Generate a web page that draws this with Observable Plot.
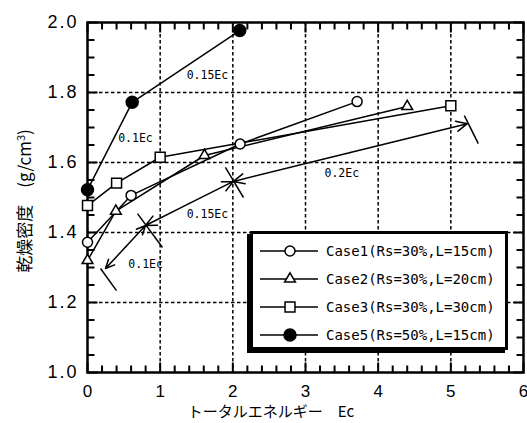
<!DOCTYPE html>
<html><head><meta charset="utf-8">
<script src="https://cdn.jsdelivr.net/npm/d3@7"></script>
<script src="https://cdn.jsdelivr.net/npm/@observablehq/plot@0.6"></script>
<style>
body{margin:0;background:#fff;}
#chart{width:527px;height:423px;}
g[aria-label="y-axis tick label"] text {letter-spacing:2px;}
</style></head><body><div id="chart"></div>
<script>
// ---- data ----
const case1X = [0, 0.60, 2.10, 3.71];
const case1Y = [1.372, 1.506, 1.653, 1.774];
const case2X = [0, 0.39, 1.61, 4.40];
const case2Y = [1.320, 1.461, 1.620, 1.760];
const case3X = [0, 0.40, 1.00, 5.00];
const case3Y = [1.477, 1.541, 1.615, 1.762];
const case5X = [0, 0.615, 2.095];
const case5Y = [1.522, 1.772, 1.977];
const seriesNames = ["Case1(Rs=30%,L=15cm)", "Case2(Rs=30%,L=20cm)", "Case3(Rs=30%,L=30cm)", "Case5(Rs=50%,L=15cm)"];

// bidirectional arrow segments (0.1Ec, 0.15Ec, 0.2Ec)
const segX = [0.248, 0.798, 2.008, 5.227];
const segY = [1.297, 1.420, 1.546, 1.711];
// end marks on the arrow segments
const markX1 = [0.179, 0.688, 1.898, 5.186];
const markY1 = [1.297, 1.454, 1.586, 1.734];
const markX2 = [0.399, 1.032, 2.146, 5.378];
const markY2 = [1.234, 1.357, 1.500, 1.654];

// annotation labels
const noteText = ["0.15Ec", "0.1Ec", "0.15Ec", "0.1Ec", "0.2Ec"];
const noteX = [1.65, 0.66, 1.65, 0.80, 3.50];
const noteY = [1.849, 1.669, 1.451, 1.309, 1.569];

const xTicks = [0, 1, 2, 3, 4, 5, 6];
const yTicks = [1.0, 1.2, 1.4, 1.6, 1.8, 2.0];
const xGrid = [1, 2, 3, 4, 5];
const yGrid = [1.2, 1.4, 1.6, 1.8];
const xMinor = d3.range(0, 31).map(i => i * 0.2);
const yMinor = d3.range(0, 21).map(i => 1 + i * 0.05);

// ---- build tables ----
const symbolNames = ["circle", "triangle", "square", "circle"];
const symbolRadii = [5, 4, 5.6, 6];
const symbolFills = ["#fff", "#fff", "#fff", "#000"];
const seriesXs = [case1X, case2X, case3X, case5X];
const seriesYs = [case1Y, case2Y, case3Y, case5Y];
const pointRows = [];
seriesXs.forEach((arr, s) => arr.forEach((x, i) => pointRows.push({series: s, x, y: seriesYs[s][i]})));
const arrowSegs = d3.range(3).map(i => ({x0: segX[i], y0: segY[i], x1: segX[i + 1], y1: segY[i + 1]}));
const endMarks = markX1.map((x, i) => ({x1: x, y1: markY1[i], x2: markX2[i], y2: markY2[i]}));
const noteRows = noteText.map((t, i) => ({t, x: noteX[i], y: noteY[i]}));

// frame tick marks as short links (lengths converted from pixels: 436px wide = 6 units, 350px tall = 1 unit)
const ux = 6 / 436, uy = 1 / 350;
const frameTicks = [];
xMinor.forEach((v, i) => {
  const len = (i % 5 === 0 ? 10 : 7) * uy;
  frameTicks.push({x1: v, y1: 1, x2: v, y2: 1 + len});
  frameTicks.push({x1: v, y1: 2, x2: v, y2: 2 - len});
});
yMinor.forEach((v, i) => {
  const len = (i % 4 === 0 ? 10 : 7) * ux;
  frameTicks.push({x1: 0, y1: v, x2: len, y2: v});
  frameTicks.push({x1: 6, y1: v, x2: 6 - len, y2: v});
});

const dash = {stroke: "#000", strokeWidth: 1.5, strokeDasharray: "3.5,2.5"};

const plot = Plot.plot({
  width: 527, height: 423,
  marginLeft: 87, marginRight: 4, marginTop: 22, marginBottom: 51,
  style: {fontFamily: "'Liberation Sans', Arial, sans-serif", fontSize: "18px", background: "#fff", color: "#000"},
  x: {domain: [0, 6]},
  y: {domain: [1, 2]},
  marks: [
    Plot.ruleX(xGrid, dash),
    Plot.ruleY(yGrid, dash),
    Plot.frame({stroke: "#000", strokeWidth: 2.5}),
    Plot.link(frameTicks, {x1: "x1", y1: "y1", x2: "x2", y2: "y2", stroke: "#000", strokeWidth: 2}),
    Plot.axisX({ticks: xTicks, tickSize: 0, tickPadding: 12, tickFormat: d => String(d), label: null, fontSize: 17}),
    Plot.axisY({ticks: yTicks, tickSize: 0, tickPadding: 9, tickFormat: d3.format(".1f"), label: null, fontSize: 18}),
    Plot.line(pointRows, {x: "x", y: "y", z: "series", stroke: "#000", strokeWidth: 1.5}),
    ...[0, 1, 2, 3].map(s => Plot.dot(pointRows.filter(d => d.series === s), {
      x: "x", y: "y", symbol: symbolNames[s], r: symbolRadii[s], fill: symbolFills[s], stroke: "#000", strokeWidth: 1.5
    })),
    Plot.arrow(arrowSegs, {x1: d => (d.x0 + d.x1) / 2, y1: d => (d.y0 + d.y1) / 2, x2: "x1", y2: "y1",
      stroke: "#000", strokeWidth: 1.5, headLength: 12, headAngle: 50}),
    Plot.arrow(arrowSegs, {x1: d => (d.x0 + d.x1) / 2, y1: d => (d.y0 + d.y1) / 2, x2: "x0", y2: "y0",
      stroke: "#000", strokeWidth: 1.5, headLength: 12, headAngle: 50}),
    Plot.link(endMarks, {x1: "x1", y1: "y1", x2: "x2", y2: "y2", stroke: "#000", strokeWidth: 1.5}),
    Plot.text(noteRows, {x: "x", y: "y", text: "t", fontSize: 11.5, fontFamily: "'DejaVu Sans Mono', monospace", fill: "#000"})
  ]
});

const svg = d3.select(plot);

// legend
const lg = svg.append("g").attr("text-anchor", "start");
lg.append("rect").attr("x", 247).attr("y", 234).attr("width", 258).attr("height", 119).attr("fill", "#000");
lg.append("rect").attr("x", 251.5).attr("y", 232.5).attr("width", 255).attr("height", 116)
  .attr("fill", "#fff").attr("stroke", "#000").attr("stroke-width", 3);
const symMap = {circle: d3.symbolCircle, triangle: d3.symbolTriangle, square: d3.symbolSquare};
seriesNames.forEach((name, i) => {
  const cy = 251 + i * 28;
  lg.append("line").attr("x1", 260).attr("x2", 318).attr("y1", cy).attr("y2", cy)
    .attr("stroke", "#000").attr("stroke-width", 1.5);
  lg.append("path").attr("d", d3.symbol().type(symMap[symbolNames[i]]).size(Math.PI * symbolRadii[i] * symbolRadii[i])())
    .attr("transform", `translate(290,${cy})`).attr("fill", symbolFills[i]).attr("stroke", "#000").attr("stroke-width", 1.5);
  lg.append("text").attr("x", 326).attr("y", cy).attr("dy", "0.36em").attr("text-anchor", "start")
    .attr("font-family", "'DejaVu Sans Mono', monospace").attr("font-size", 14).text(name);
});
// axis titles
svg.append("text").attr("x", 271).attr("y", 417).attr("text-anchor", "middle")
  .attr("font-family", "'Noto Sans CJK JP', sans-serif").attr("font-size", 15)
  .text("トータルエネルギー　Ec");
const yt = svg.append("text").attr("transform", "translate(25,201) rotate(-90)")
  .attr("text-anchor", "middle").attr("dy", "0.35em")
  .attr("font-family", "'Noto Sans CJK JP', sans-serif").attr("font-size", 17);
yt.append("tspan").text("乾燥密度　(g/cm");
yt.append("tspan").attr("dy", -6).attr("font-size", 11).text("3");
yt.append("tspan").attr("dy", 6).text(")");

document.getElementById("chart").appendChild(plot);
</script>
</body></html>
